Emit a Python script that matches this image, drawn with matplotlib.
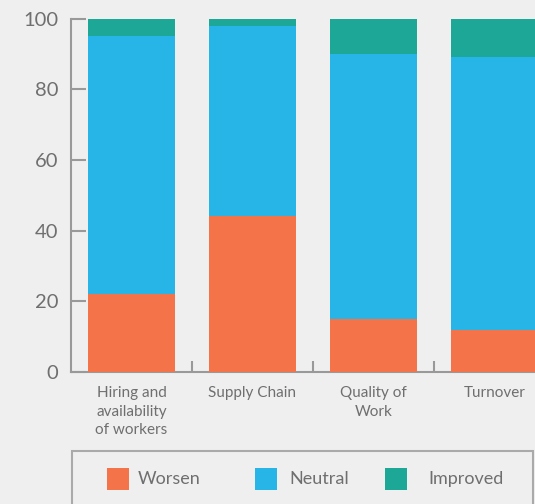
import matplotlib
matplotlib.use("Agg")
import matplotlib.pyplot as plt
from matplotlib.patches import Rectangle

categories = ["Hiring and\navailability\nof workers", "Supply Chain", "Quality of\nWork", "Turnover"]
worsen = [22, 44, 15, 12]
neutral = [73, 54, 75, 77]
improved = [5, 2, 10, 11]
series_names = ["Worsen", "Neutral", "Improved"]
colors = ["#F47348", "#27B5E8", "#1DA797"]
yticks = [0, 20, 40, 60, 80, 100]

plt.rcParams['font.family'] = ['Lato', 'DejaVu Sans']
TEXT = "#6f6f6f"
SPINE = "#999999"
BG = "#efefef"

W, H = 535, 504
fig = plt.figure(figsize=(W / 100, H / 100), dpi=100, facecolor=BG)
ax = fig.add_axes([71 / W, (H - 372) / H, 484 / W, (372 - 18.5) / H], facecolor=BG)

x = list(range(len(categories)))
bw = 0.727
ax.bar(x, worsen, width=bw, color=colors[0], linewidth=0, zorder=2)
bottom2 = [w for w in worsen]
ax.bar(x, neutral, width=bw, bottom=bottom2, color=colors[1], linewidth=0, zorder=2)
bottom3 = [w + n for w, n in zip(worsen, neutral)]
ax.bar(x, improved, width=bw, bottom=bottom3, color=colors[2], linewidth=0, zorder=2)

ax.set_xlim(-0.5, 3.5)
ax.set_ylim(0, 100)
ax.set_yticks(yticks)
ax.set_yticklabels([str(v) for v in yticks])
ax.tick_params(axis='y', direction='in', length=11, width=1.5, color=SPINE,
               labelsize=14.5, labelcolor=TEXT, pad=9)
ax.set_xticks(x)
ax.set_xticklabels(categories, linespacing=1.42)
ax.tick_params(axis='x', which='major', length=0, labelsize=11, labelcolor=TEXT, pad=10)
ax.set_xticks([0.5, 1.5, 2.5], minor=True)
ax.tick_params(axis='x', which='minor', direction='in', length=8, width=1.5, color=SPINE)
for lab in ax.get_xticklabels():
    lab.set_verticalalignment('top')
    lab.set_multialignment('center')

for s in ['top', 'right']:
    ax.spines[s].set_visible(False)
for s in ['left', 'bottom']:
    ax.spines[s].set_color(SPINE)
    ax.spines[s].set_linewidth(1.5)
ax.spines['bottom'].set_zorder(1)

# legend box
fig.patches.append(Rectangle((72 / W, -0.05), (533 - 72) / W, (H - 451) / H + 0.05,
                             transform=fig.transFigure, facecolor='none',
                             edgecolor='#aaaaaa', linewidth=1.5))
sq_x = [107, 255, 385]
txt_x = [138, 289, 428]
for name, c, sx, tx in zip(series_names, colors, sq_x, txt_x):
    fig.patches.append(Rectangle((sx / W, (H - 490) / H), 22 / W, 22 / H,
                                 transform=fig.transFigure, facecolor=c, edgecolor='none'))
    fig.text(tx / W, (H - 479) / H, name, fontsize=13, color=TEXT, va='center', ha='left')

fig.savefig("out.png", dpi=100, facecolor=BG)
